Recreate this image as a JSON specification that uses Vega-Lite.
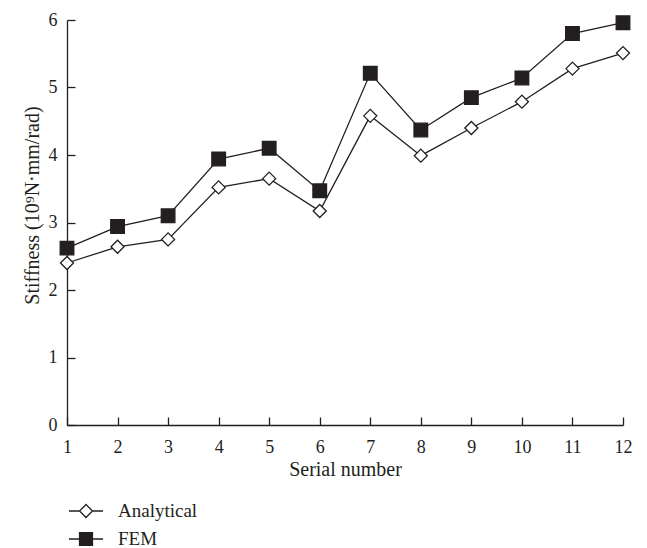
{
  "$schema": "https://vega.github.io/schema/vega-lite/v6.json",
  "width": 556,
  "height": 405,
  "autosize": {"type": "none"},
  "padding": {"left": 67, "top": 20, "right": 24, "bottom": 123},
  "background": "white",
  "config": {
    "view": {"stroke": null},
    "font": "Liberation Serif",
    "axis": {
      "domainColor": "#231f20",
      "tickColor": "#231f20",
      "labelColor": "#231f20",
      "titleColor": "#231f20",
      "labelFont": "Liberation Serif",
      "titleFont": "Liberation Serif",
      "labelFontSize": 18,
      "titleFontSize": 20,
      "titleFontWeight": "normal",
      "grid": false,
      "tickSize": -8,
      "domainWidth": 1.3,
      "tickWidth": 1.3
    }
  },
  "data": {
    "values": [
      {"n": 1, "series": "Analytical", "v": 2.40},
      {"n": 2, "series": "Analytical", "v": 2.64},
      {"n": 3, "series": "Analytical", "v": 2.75},
      {"n": 4, "series": "Analytical", "v": 3.52},
      {"n": 5, "series": "Analytical", "v": 3.65},
      {"n": 6, "series": "Analytical", "v": 3.17},
      {"n": 7, "series": "Analytical", "v": 4.58},
      {"n": 8, "series": "Analytical", "v": 3.99},
      {"n": 9, "series": "Analytical", "v": 4.40},
      {"n": 10, "series": "Analytical", "v": 4.79},
      {"n": 11, "series": "Analytical", "v": 5.28},
      {"n": 12, "series": "Analytical", "v": 5.51},
      {"n": 1, "series": "FEM", "v": 2.62},
      {"n": 2, "series": "FEM", "v": 2.94},
      {"n": 3, "series": "FEM", "v": 3.10},
      {"n": 4, "series": "FEM", "v": 3.94},
      {"n": 5, "series": "FEM", "v": 4.10},
      {"n": 6, "series": "FEM", "v": 3.47},
      {"n": 7, "series": "FEM", "v": 5.21},
      {"n": 8, "series": "FEM", "v": 4.37},
      {"n": 9, "series": "FEM", "v": 4.85},
      {"n": 10, "series": "FEM", "v": 5.14},
      {"n": 11, "series": "FEM", "v": 5.80},
      {"n": 12, "series": "FEM", "v": 5.96}
    ]
  },
  "encoding": {
    "x": {
      "field": "n", "type": "quantitative",
      "scale": {"domain": [1, 12], "nice": false, "zero": false},
      "axis": {"values": [1,2,3,4,5,6,7,8,9,10,11,12], "title": "Serial number", "labelPadding": 21, "titlePadding": 3, "labelFlush": false}
    },
    "y": {
      "field": "v", "type": "quantitative",
      "scale": {"domain": [0, 6], "nice": false},
      "axis": {"values": [0,1,2,3,4,5,6], "title": "Stiffness (10⁹N·mm/rad)", "labelPadding": 18, "titlePadding": 6, "titleY": 185, "labelFlush": false}
    }
  },
  "layer": [
    {
      "mark": {"type": "line", "color": "#231f20", "strokeWidth": 1.3},
      "encoding": {"detail": {"field": "series"}}
    },
    {
      "mark": {"type": "point", "filled": true, "stroke": "#231f20", "strokeWidth": 1.3, "opacity": 1},
      "encoding": {
        "shape": {
          "field": "series", "type": "nominal",
          "scale": {"domain": ["Analytical", "FEM"], "range": ["diamond", "square"]},
          "legend": null
        },
        "fill": {
          "condition": {"test": "datum.series === 'FEM'", "value": "#231f20"},
          "value": "white"
        },
        "size": {
          "condition": {"test": "datum.series === 'FEM'", "value": 185},
          "value": 170
        }
      }
    },
    {
      "transform": [{"filter": "false"}],
      "mark": {"type": "point", "filled": false, "color": "#231f20", "strokeWidth": 1.3, "opacity": 1},
      "encoding": {
        "shape": {
          "field": "series", "type": "nominal",
          "scale": {"domain": ["Analytical", "FEM"], "range": ["M-1,0H-0.38M0.38,0H1M0,-0.38L0.38,0L0,0.38L-0.38,0Z", "M-1,0H-0.38M0.38,0H1M-0.38,-0.38H0.38V0.38H-0.38ZM-0.38,-0.304H0.38V-0.228H-0.38V-0.152H0.38V-0.076H-0.38V0H0.38V0.076H-0.38V0.152H0.38V0.228H-0.38V0.304H0.38"]},
          "legend": {
            "title": null,
            "orient": "none",
            "legendX": 1,
            "legendY": 473,
            "symbolSize": 1156,
            "symbolStrokeColor": "#231f20",
            "symbolStrokeWidth": 1.3,
            "symbolOpacity": 1,
            "labelFont": "Liberation Serif",
            "labelFontSize": 19,
            "labelColor": "#231f20",
            "labelOffset": 14,
            "rowPadding": 0,
            "padding": 0
          }
        }
      }
    }
  ],
  "resolve": {"scale": {"shape": "independent"}, "legend": {"shape": "independent"}}
}
